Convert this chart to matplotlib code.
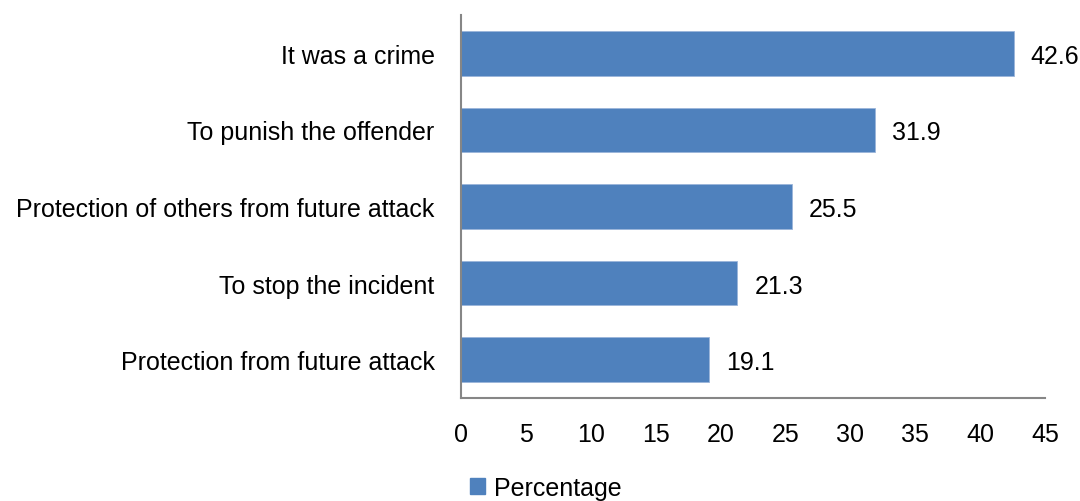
import matplotlib
matplotlib.use('Agg')
import matplotlib.pyplot as plt
from matplotlib.patches import Patch

# data, bottom to top
reasons = ['Protection from future attack', 'To stop the incident',
           'Protection of others from future attack', 'To punish the offender',
           'It was a crime']
percent = [19.1, 21.3, 25.5, 31.9, 42.6]
xticks = [0, 5, 10, 15, 20, 25, 30, 35, 40, 45]

plt.rcParams['font.family'] = ['Liberation Sans', 'DejaVu Sans']
fs = 18
bar_col = '#4F81BD'
axis_col = '#868686'

fig = plt.figure(figsize=(10.8, 5.02), dpi=100)
ax = fig.add_axes([461/1080, 1 - 399/502, (1045 - 461)/1080, (399 - 16)/502])

bars = ax.barh(range(len(reasons)), percent, height=0.58, color=bar_col,
               edgecolor='#9BB5DA', linewidth=0.6)
for b, v in zip(bars, percent):
    ax.text(b.get_width() + 1.3, b.get_y() + b.get_height()/2, f'{v:.1f}',
            va='center_baseline', ha='left', fontsize=fs, color='black')

ax.set_xlim(0, 45)
ax.set_ylim(-0.5, len(reasons) - 0.5)
ax.set_xticks(xticks)
ax.set_xticklabels([str(t) for t in xticks])
ax.set_yticks(range(len(reasons)))
ax.set_yticklabels(reasons, va='center_baseline')
ax.tick_params(axis='both', length=0, labelsize=fs, colors='black')
ax.tick_params(axis='x', pad=17)
ax.tick_params(axis='y', pad=19)

for s in ['top', 'right']:
    ax.spines[s].set_visible(False)
for s in ['left', 'bottom']:
    ax.spines[s].set_color(axis_col)
    ax.spines[s].set_linewidth(1.5)

fig.legend(handles=[Patch(color=bar_col, label='Percentage')],
           loc='center', bbox_to_anchor=(546/1080, 1 - 489/502), frameon=False,
           fontsize=fs, handlelength=0.6, handleheight=0.6, handletextpad=0.35)

fig.savefig('out.png', dpi=100)
